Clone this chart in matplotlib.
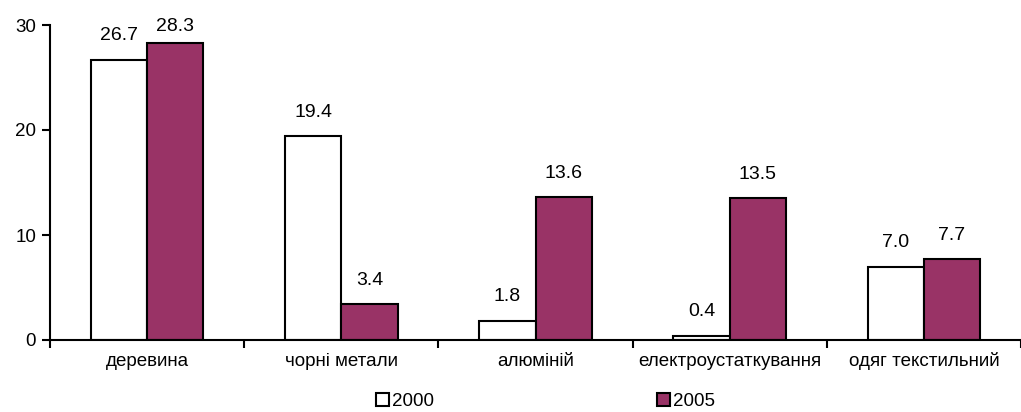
import matplotlib
matplotlib.use('Agg')
import matplotlib.pyplot as plt
import numpy as np

plt.rcParams['font.family'] = ['Liberation Sans', 'DejaVu Sans']

categories = ['деревина', 'чорні метали', 'алюміній', 'електроустаткування', 'одяг текстильний']
vals_2000 = [26.7, 19.4, 1.8, 0.4, 7.0]
vals_2005 = [28.3, 3.4, 13.6, 13.5, 7.7]
series_names = ['2000', '2005']

fig = plt.figure(figsize=(10.21, 4.12), dpi=100)
ax = fig.add_axes([50 / 1021, 72 / 412, 1 - 50 / 1021, 315 / 412])

x = np.arange(len(categories))
w = 0.29
b1 = ax.bar(x - w / 2, vals_2000, w, color='white', edgecolor='black', linewidth=1.5, label=series_names[0])
b2 = ax.bar(x + w / 2, vals_2005, w, color='#993366', edgecolor='black', linewidth=1.5, label=series_names[1])

for bars, vals in ((b1, vals_2000), (b2, vals_2005)):
    for r, v in zip(bars, vals):
        ax.text(r.get_x() + r.get_width() / 2, min(v + 2.3, 29.9), f'{v:.1f}',
                ha='center', va='center', fontsize=14, clip_on=False)

ax.set_ylim(0, 30)
ax.set_xlim(-0.5, 4.435)
ax.set_yticks([0, 10, 20, 30])
ax.tick_params(axis='y', labelsize=13.5, length=6, width=1.5, direction='out', pad=4)
ax.set_xticks(np.arange(len(categories) + 1) - 0.5, minor=False)
ax.set_xticklabels([])
ax.set_xticks(x, minor=True)
ax.set_xticklabels(categories, minor=True, fontsize=13.5)
ax.tick_params(axis='x', which='major', length=6, width=1.5, direction='out')
ax.tick_params(axis='x', which='minor', length=0, pad=9)
for s in ('top', 'right'):
    ax.spines[s].set_visible(False)
ax.spines['left'].set_linewidth(1.5)
ax.spines['bottom'].set_linewidth(1.5)

fig.legend(handles=[b1, b2], labels=series_names, loc='center', bbox_to_anchor=(0.534, 0.026),
           ncol=2, frameon=False, fontsize=13.5, handlelength=0.7, handleheight=0.7,
           handletextpad=0.15, columnspacing=11.9, borderpad=0)

fig.savefig('out.png', dpi=100)
